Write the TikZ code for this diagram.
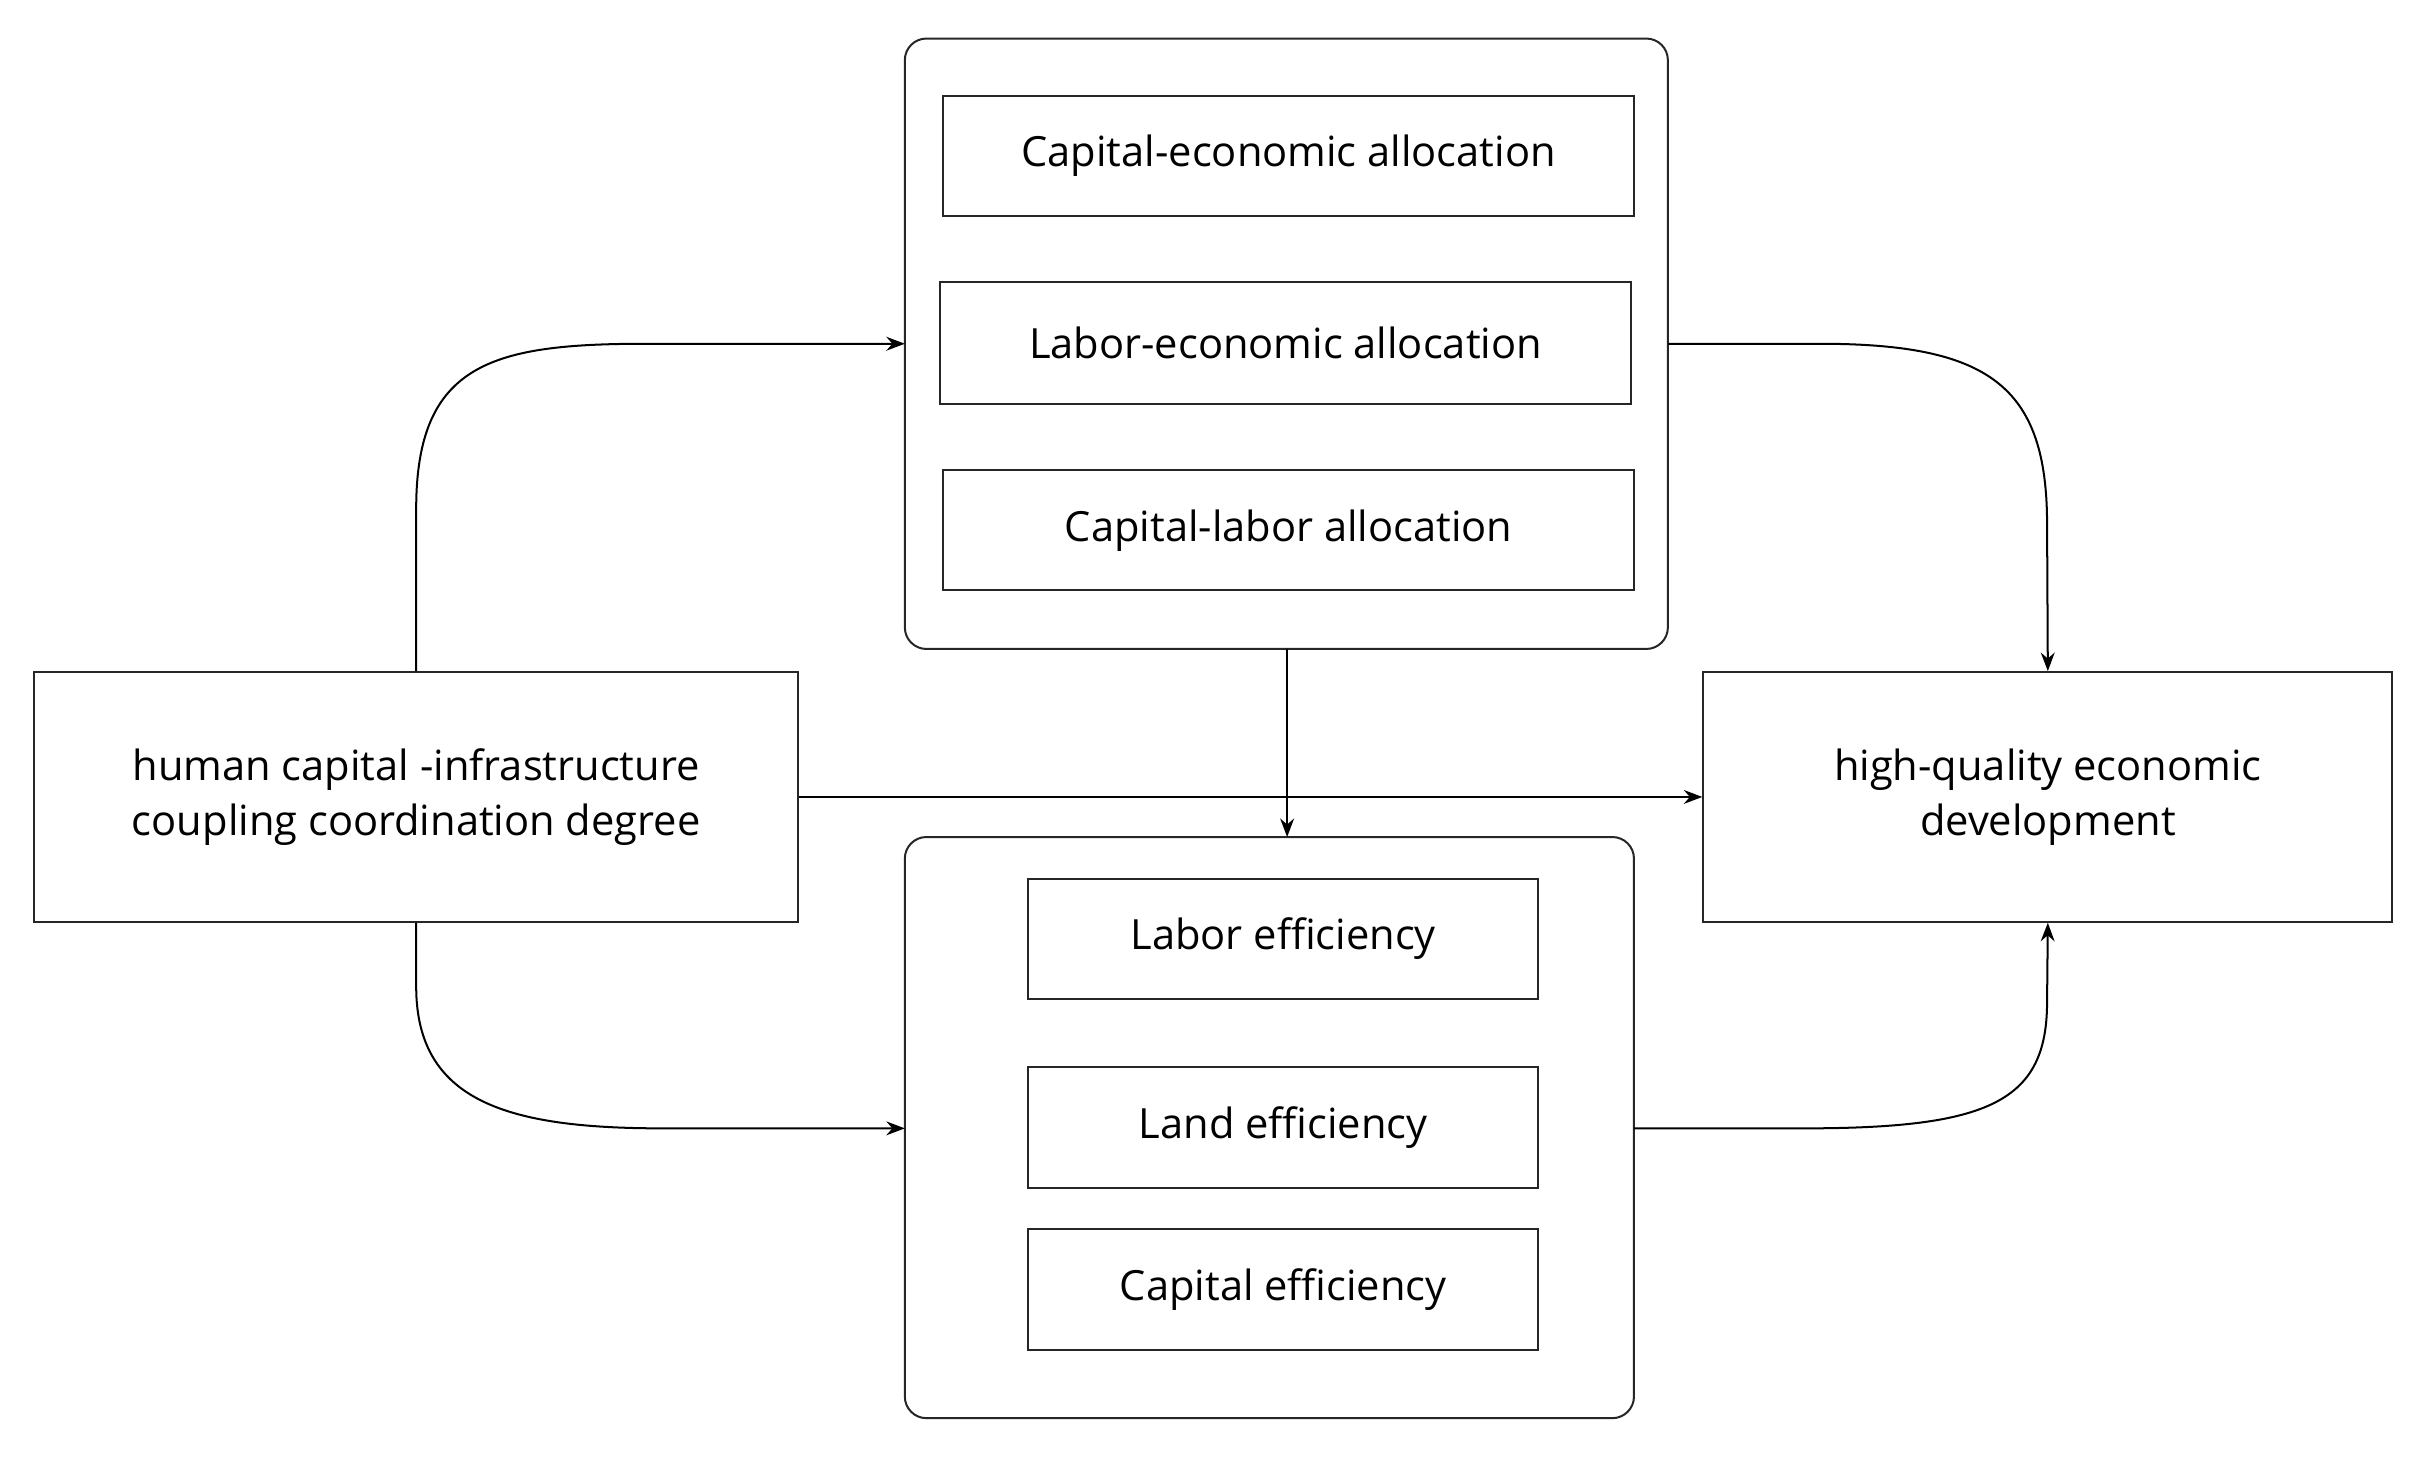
\documentclass[tikz,border=0pt]{standalone}
\usepackage{fontspec}
\setmainfont{Open Sans}
\usetikzlibrary{arrows.meta}
\begin{document}
\begin{tikzpicture}[x=1pt,y=-1pt,
  box/.style={draw=black!85,line width=1.3pt,font=\fontsize{27}{36}\selectfont,align=center,inner sep=0pt},
  outer/.style={draw=black!85,line width=1.3pt,rounded corners=14pt},
  arr/.style={line width=1.3pt,-{Stealth[length=12pt,width=9pt]}}]
\useasboundingbox (0,0) rectangle (1568,948);
\draw[outer] (587,25) rectangle (1082,421);
\draw[outer] (587,543) rectangle (1060,920);
\coordinate (to) at (587,25); \coordinate (bo) at (587,543);
\node[box,minimum width=448pt,minimum height=78pt] (a1) at (836,101) {Capital-economic allocation};
\node[box,minimum width=448pt,minimum height=79pt] (a2) at (834,222.5) {Labor-economic allocation};
\node[box,minimum width=448pt,minimum height=78pt] (a3) at (836,344) {Capital-labor allocation};
\node[box,minimum width=331pt,minimum height=78pt] (b1) at (832.5,609) {Labor efficiency};
\node[box,minimum width=331pt,minimum height=79pt] (b2) at (832.5,731.5) {Land efficiency};
\node[box,minimum width=331pt,minimum height=79pt] (b3) at (832.5,836.5) {Capital efficiency};
\node[box,minimum width=496pt,minimum height=162pt] (L) at (270,517) {human capital -infrastructure\\coupling coordination degree};
\node[box,minimum width=447pt,minimum height=162pt] (R) at (1328.5,517) {high-quality economic\\development};
\coordinate (tl) at (587,223); \coordinate (tr) at (1082,223);
\coordinate (tb) at (835,421); \coordinate (bt) at (835,543);
\coordinate (bl) at (587,732); \coordinate (br) at (1060,732);
\draw[arr] (L.north) -- (270,330) .. controls (270,235) and (320,223) .. (420,223) -- (tl);
\draw[arr] (tr) -- (1180,223) .. controls (1290,223) and (1328,250) .. (1328,340) -- (R.north);
\draw[arr] (tb) -- (bt);
\draw[arr] (L.east) -- (R.west);
\draw[arr] (L.south) -- (270,640) .. controls (270,715) and (330,732) .. (430,732) -- (bl);
\draw[arr] (br) -- (1170,732) .. controls (1290,732) and (1328,715) .. (1328,650) -- (R.south);
\end{tikzpicture}
\end{document}
